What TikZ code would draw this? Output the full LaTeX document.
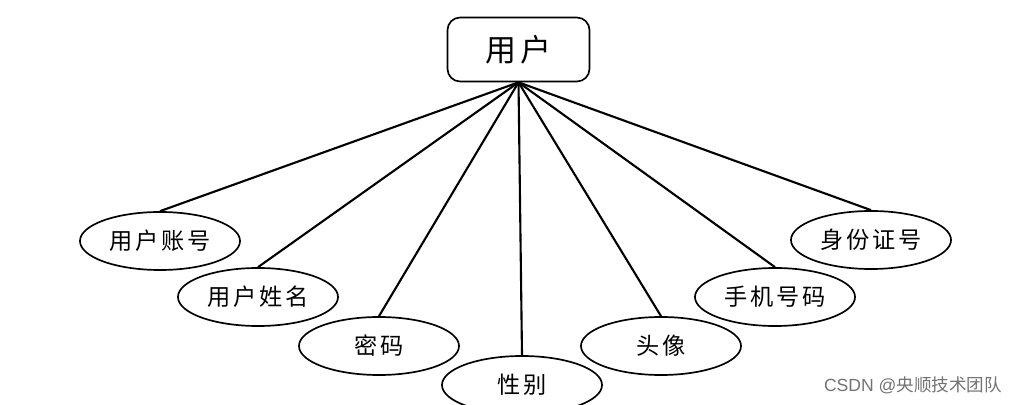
\documentclass[tikz,border=0pt]{standalone}
\usepackage{fontspec}
\newfontfamily\cjk[LetterSpace=12]{Noto Sans CJK SC}
\newfontfamily\wmfont{Liberation Sans}
\usetikzlibrary{shapes.geometric,positioning}

\begin{document}
\begin{tikzpicture}[
    x=0.025cm, y=-0.025cm,
    font=\cjk,
    entity/.style={rectangle, rounded corners=9pt, draw=black, line width=1.2pt, minimum width=3.55cm, minimum height=1.6cm, font=\cjk\fontsize{22}{26}\selectfont, fill=white},
    attr/.style={ellipse, draw=black, line width=1.2pt, minimum width=4cm, minimum height=1.45cm, inner sep=0pt, font=\cjk\fontsize{16.5}{20}\selectfont, fill=white},
    link/.style={line width=1.5pt},
]
\useasboundingbox (0,0) rectangle (1025,405);
\clip (0,0) rectangle (1025,405);

\node[entity] (user) at (518.5,49.5) {用户};

\node[attr] (account) at (160,241) {用户账号};
\node[attr] (uname) at (258,297) {用户姓名};
\node[attr] (pwd) at (379,346) {密码};
\node[attr] (gender) at (522,385) {性别};
\node[attr] (avatar) at (661,346) {头像};
\node[attr] (phone) at (775,297) {手机号码};
\node[attr] (idcard) at (871,240) {身份证号};

\foreach \a in {account,uname,pwd,gender,avatar,phone,idcard}
    \draw[link] (user.south) -- (\a.north);

\node[font=\wmfont\fontsize{12.5}{15}\selectfont, text=black!55] (wm) at (913,385) {CSDN @\cjk\addfontfeature{LetterSpace=0}央顺技术团队};
\end{tikzpicture}
\end{document}
